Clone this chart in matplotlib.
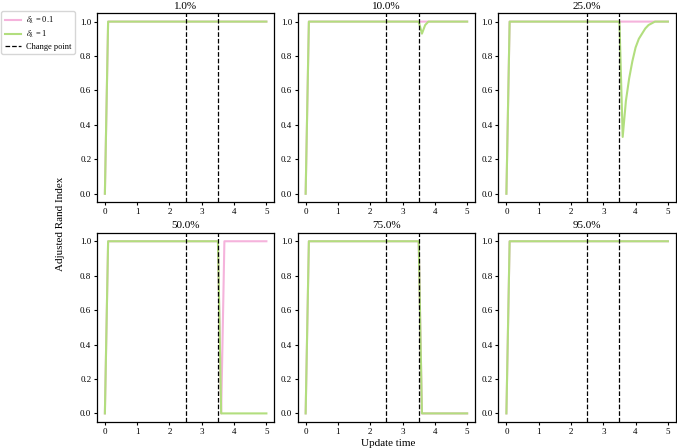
import numpy as np
import matplotlib
matplotlib.use("Agg")
import matplotlib.pyplot as plt
from matplotlib.lines import Line2D

plt.rcParams['font.family'] = ['Liberation Serif', 'DejaVu Serif']
plt.rcParams['mathtext.fontset'] = 'stix'

# time grid (update times)
update_time = [round(0.1 * i, 1) for i in range(51)]

panel_titles = ["1.0%", "10.0%", "25.0%", "50.0%", "75.0%", "95.0%"]
change_points = [2.5, 3.5]
series_labels = [r"$\delta_\lambda$ = 0.1", r"$\delta_\lambda$ = 1"]

ones = [1.0] * 50

# delta = 0.1 (pink)
ari_01 = {
    "1.0%":  [0.0] + ones,
    "10.0%": [0.0] + ones,
    "25.0%": [0.0] + ones,
    "50.0%": [0.0] + [1.0] * 35 + [0.0] + [1.0] * 14,
    "75.0%": [0.0] + [1.0] * 35 + [0.0] * 15,
    "95.0%": [0.0] + ones,
}

# delta = 1 (green)
ari_1 = {
    "1.0%":  [0.0] + ones,
    "10.0%": [0.0] + [1.0] * 35 + [0.93, 0.98] + [1.0] * 13,
    "25.0%": [0.0] + [1.0] * 35 + [0.33, 0.54, 0.67, 0.77, 0.85, 0.90, 0.93,
                                   0.96, 0.98, 0.99] + [1.0] * 5,
    "50.0%": [0.0] + [1.0] * 35 + [0.0] * 15,
    "75.0%": [0.0] + [1.0] * 35 + [0.0] * 15,
    "95.0%": [0.0] + ones,
}

pink = '#f5b3dc'
green = '#b2de7e'

fig, axes = plt.subplots(2, 3, figsize=(6.77, 4.48), dpi=100)
fig.subplots_adjust(left=0.143, right=0.9985, top=0.971, bottom=0.058,
                    wspace=0.13, hspace=0.16)

for ax, title in zip(axes.flat, panel_titles):
    ax.plot(update_time, ari_01[title], color=pink, lw=1.5)
    ax.plot(update_time, ari_1[title], color=green, lw=1.5)
    for cp in change_points:
        ax.axvline(cp, color='black', ls='--', lw=0.9)
    ax.set_title(title, fontsize=8, pad=3)
    ax.set_xticks([0, 1, 2, 3, 4, 5])
    ax.set_yticks([0.0, 0.2, 0.4, 0.6, 0.8, 1.0])
    ax.tick_params(labelsize=6.5, length=2.5, width=0.8, pad=1.5)
    for s in ax.spines.values():
        s.set_linewidth(0.9)

fig.text(0.09, 0.5, "Adjusted Rand Index", rotation=90, ha='center',
         va='center', fontsize=8)
fig.text(0.574, 0.011, "Update time", ha='center', va='center', fontsize=8)

handles = [Line2D([], [], color=pink, lw=1.5),
           Line2D([], [], color=green, lw=1.5),
           Line2D([], [], color='black', ls='--', lw=0.9)]
fig.legend(handles, series_labels + ["Change point"], loc='upper left',
           bbox_to_anchor=(0.002, 0.975), fontsize=6, frameon=True,
           handlelength=2.0, handletextpad=0.6, borderpad=0.4,
           labelspacing=0.35, borderaxespad=0.0)

fig.savefig("out.png", dpi=100)
